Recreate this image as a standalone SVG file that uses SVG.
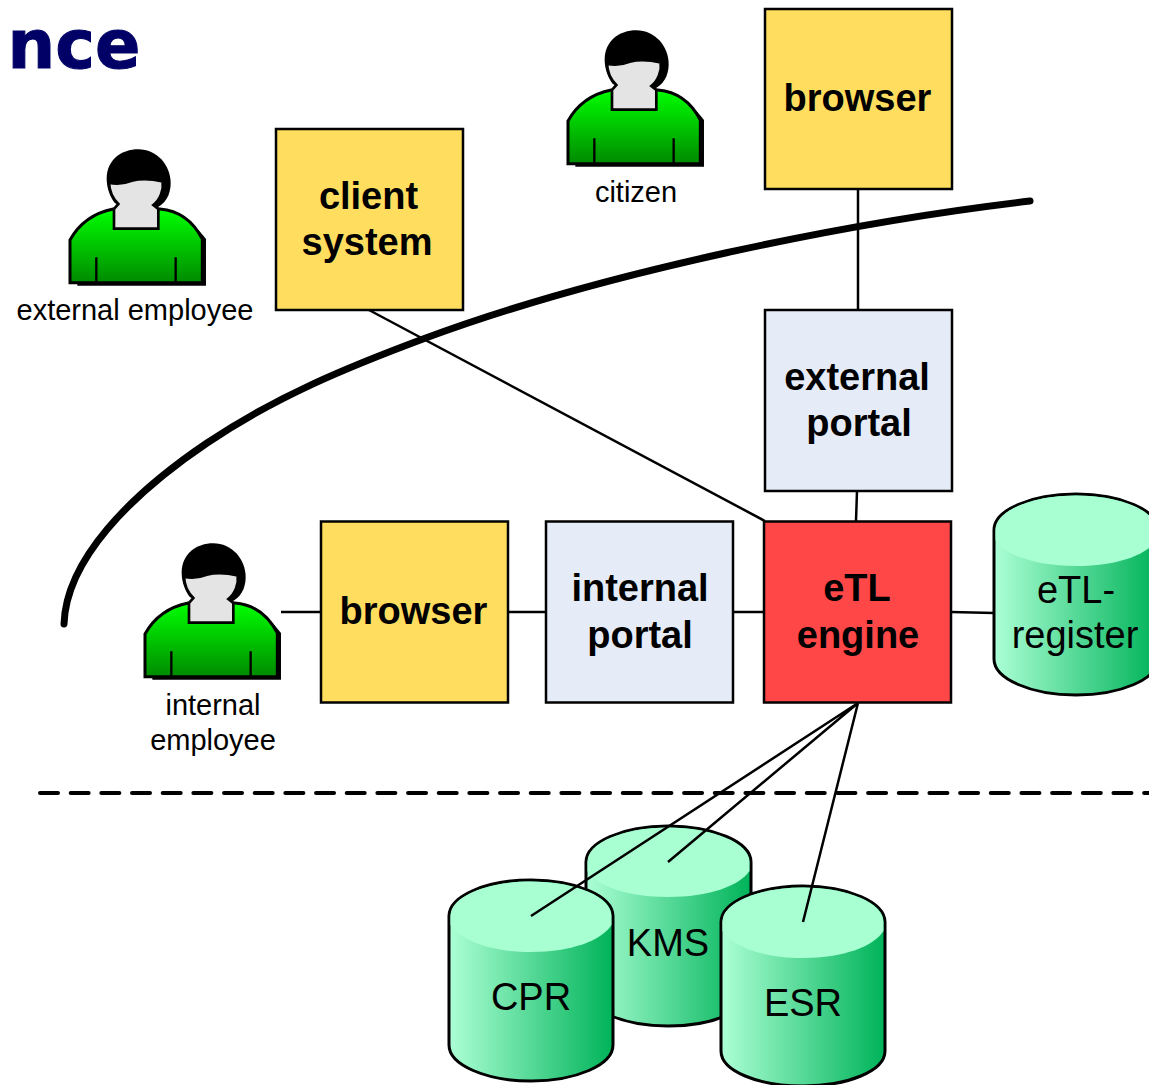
<svg xmlns="http://www.w3.org/2000/svg" width="1149" height="1085" viewBox="0 0 1149 1085">
<style>
text{font-family:"Liberation Sans",Arial,sans-serif;text-anchor:middle;fill:#000}
.b{font-size:38px;font-weight:bold}
.c{font-size:38px}
.l{font-size:29px}
.box{stroke:#000;stroke-width:2.5}
.cyl{stroke:#000;stroke-width:3;fill:url(#side)}
.cap{fill:#A8FFD2}
.conn{stroke:#000;stroke-width:2.5;fill:none}
</style>
<defs>
<linearGradient id="side" x1="0" y1="0" x2="1" y2="0"><stop offset="0" stop-color="#ACFFD5"/><stop offset="1" stop-color="#00B359"/></linearGradient>
<linearGradient id="shirt" x1="0" y1="0" x2="0" y2="1"><stop offset="0" stop-color="#00FF00"/><stop offset="1" stop-color="#008A00"/></linearGradient>
<g id="person" transform="scale(.3333)">
<path d="M82 437V300C100 260 135 225 190 210H330C390 210 430 250 468 297V437Z" fill="#000"/>
<path d="M60 428V300C85 255 125 220 190 207H330C390 212 430 245 457 297V428Z" fill="url(#shirt)" stroke="#000" stroke-width="9"/>
<path d="M139 352V428M377 352V428" fill="none" stroke="#000" stroke-width="7"/>
<path d="M170 115C170 60 215 28 265 28C320 28 362 75 362 130C362 165 345 195 315 205L195 190C180 170 170 145 170 115Z" fill="#000"/>
<path d="M177 128C200 133 225 130 245 122C275 115 310 118 338 124C342 150 330 180 310 195L325 207V266H192V207L205 192C190 178 178 155 177 128Z" fill="#E4E4E4" stroke="#000" stroke-width="8"/>
</g>
</defs>
<g id="title"><text x="74" y="68" style="font-family:'DejaVu Sans',Verdana,sans-serif;font-size:67px;font-weight:bold;fill:#000066;stroke:#000066;stroke-width:1">nce</text></g>
<g id="boundary"><path d="M64 624C66 560 130 495 207 443C277 396 348 367 423 339C603 272 850 222 1030 201" fill="none" stroke="#000" stroke-width="7" stroke-linecap="round"/>
<path d="M40 793H1149" fill="none" stroke="#000" stroke-width="4" stroke-linecap="round" stroke-dasharray="18 12.67"/></g>
<g id="external-employee"><use href="#person" transform="translate(50 140)"/><text class="l" x="135" y="320">external employee</text></g>
<g id="citizen"><use href="#person" transform="translate(548 21)"/><text class="l" x="636" y="202">citizen</text></g>
<g id="internal-employee"><use href="#person" transform="translate(125 534)"/><text class="l" x="213" y="715">internal</text><text class="l" x="213" y="750">employee</text></g>
<g id="browser-top"><rect class="box" x="765" y="9" width="187" height="180" fill="#FFDD5E"/><text class="b" x="857.500" y="111">browser</text></g>
<g id="client-system"><rect class="box" x="276" y="129" width="187" height="181" fill="#FFDD5E"/><text class="b" x="368.500" y="209">client</text><text class="b" x="367" y="255">system</text></g>
<g id="external-portal"><rect class="box" x="765" y="310" width="187" height="181" fill="#E6ECF7"/><text class="b" x="857" y="390">external</text><text class="b" x="859" y="436">portal</text></g>
<g id="browser-internal"><rect class="box" x="321" y="521.500" width="187" height="181" fill="#FFDD5E"/><text class="b" x="413.500" y="624">browser</text></g>
<g id="internal-portal"><rect class="box" x="546" y="521.500" width="187" height="181" fill="#E6ECF7"/><text class="b" x="640" y="601">internal</text><text class="b" x="640" y="648">portal</text></g>
<g id="etl-engine"><rect class="box" x="764" y="521.500" width="187" height="181" fill="#FF4747"/><text class="b" x="857" y="601">eTL</text><text class="b" x="858" y="648">engine</text></g>
<g id="etl-register"><path class="cyl" d="M994 530V659C994 679 1031 695 1076 695S1158 679 1158 659V530C1158 510 1121 494 1076 494S994 510 994 530Z"/><path class="cap" d="M995.500 540C1005 555 1035 566 1076 566S1147 555 1156.500 540V530C1156.500 511 1121 495.500 1076 495.500S995.500 511 995.500 530Z"/><text class="c" x="1076" y="603">eTL-</text><text class="c" x="1075" y="648">register</text></g>
<g id="kms"><path class="cyl" d="M586 862V990C586 1010 623 1026 668 1026S751 1010 751 990V862C751 842 713 826 668 826S586 842 586 862Z"/><path class="cap" d="M587.500 871C597 886 627 897 668 897S739 886 749.500 871V862C749.500 843 713 827.500 668 827.500S587.500 843 587.500 862Z"/><text class="c" x="668" y="956">KMS</text></g>
<g id="cpr"><path class="cyl" d="M449 916V1045C449 1065 486 1081 531 1081S613 1065 613 1045V916C613 896 576 880 531 880S449 896 449 916Z"/><path class="cap" d="M450.500 925C460 940 490 952 531 952S602 940 611.500 925V916C611.500 897 576 881.500 531 881.500S450.500 897 450.500 916Z"/><text class="c" x="531" y="1010">CPR</text></g>
<g id="esr"><path class="cyl" d="M721 922V1051C721 1071 758 1086 803 1086S885 1071 885 1051V922C885 902 848 886 803 886S721 902 721 922Z"/><path class="cap" d="M722.500 931C732 946 762 958 803 958S874 946 883.500 931V922C883.500 903 848 887.500 803 887.500S722.500 903 722.500 922Z"/><text class="c" x="803" y="1016">ESR</text></g>
<g id="connectors">
<path class="conn" d="M858 189V310M857 491L856 521M369 310L765 521M281 612H321M508 612H546M733 612H764M951 612L994 613M858 703L531 916M858 703L668 862M858 703L803 922"/>
</g>
</svg>
